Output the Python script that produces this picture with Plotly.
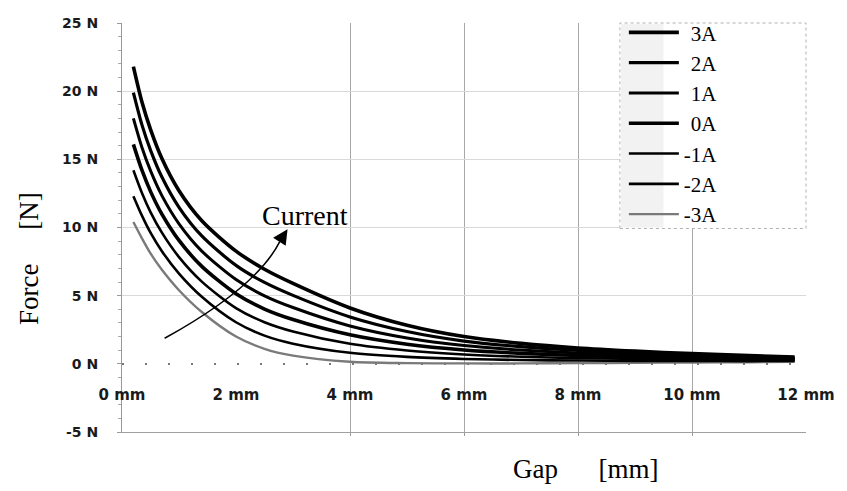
import plotly.graph_objects as go

# ---- data ----
gap_mm = [0.2, 0.35, 0.5, 0.7, 1.0, 1.4, 2.0, 2.5, 3.0, 4.0, 5.0, 6.0, 7.0, 8.0, 9.0, 10.0, 11.0, 11.8]

force_p3A = [21.8, 19.2, 17.2, 15.06, 12.7, 10.5, 8.27, 6.94, 5.9, 4.1, 2.83, 2.0, 1.5, 1.16, 0.93, 0.75, 0.6, 0.5]
force_p2A = [19.9, 17.53, 15.68, 13.7, 11.48, 9.38, 7.22, 5.97, 5.02, 3.44, 2.37, 1.67, 1.26, 0.98, 0.79, 0.64, 0.52, 0.44]
force_p1A = [18.0, 15.87, 14.17, 12.34, 10.27, 8.27, 6.18, 4.99, 4.13, 2.78, 1.9, 1.34, 1.01, 0.79, 0.65, 0.53, 0.44, 0.38]
force_0A  = [16.1, 14.2, 12.65, 10.98, 9.05, 7.15, 5.14, 4.02, 3.25, 2.13, 1.44, 1.02, 0.77, 0.61, 0.51, 0.43, 0.36, 0.33]
force_m1A = [14.2, 12.53, 11.13, 9.62, 7.83, 6.03, 4.09, 3.05, 2.37, 1.47, 0.98, 0.69, 0.52, 0.42, 0.36, 0.32, 0.28, 0.27]
force_m2A = [12.3, 10.87, 9.62, 8.26, 6.62, 4.92, 3.05, 2.07, 1.48, 0.81, 0.51, 0.36, 0.28, 0.24, 0.22, 0.21, 0.2, 0.21]
force_m3A = [10.4, 9.2, 8.1, 6.9, 5.4, 3.8, 2.0, 1.1, 0.6, 0.15, 0.05, 0.03, 0.03, 0.05, 0.08, 0.1, 0.12, 0.15]

series_names = ["3A", "2A", "1A", "0A", "-1A", "-2A", "-3A"]
series_values = [force_p3A, force_p2A, force_p1A, force_0A, force_m1A, force_m2A, force_m3A]

x_tick_vals = [0, 2, 4, 6, 8, 10, 12]
x_tick_text = ["0 mm", "2 mm", "4 mm", "6 mm", "8 mm", "10 mm", "12 mm"]
x_grid_vals = [4, 6, 8, 10]
y_tick_vals = [-5, 5, 10, 15, 20, 25]
y_tick_text = ["-5 N", "5 N", "10 N", "15 N", "20 N", "25 N"]

# ---- styles ----
line_widths = [3.6, 3.2, 3.0, 3.6, 2.6, 2.6, 2.4]
line_colors = ["#000000"] * 6 + ["#7a7a7a"]
# which overlaid axis pair each curve uses (all share identical ranges)
axis_pairs = [("x", "y")] * 4 + [("x2", "y"), ("x2", "y"), ("x", "y2")]
SERIF = "Liberation Serif, Times New Roman, serif"
ytickfont = dict(family="DejaVu Sans", size=14, color="#1a1a1a", weight="bold")
xtickfont = dict(family="DejaVu Sans", size=15, color="#1a1a1a", weight="bold")

fig = go.Figure()
for name, vals, w, c, (xa, ya) in zip(series_names, series_values, line_widths, line_colors, axis_pairs):
    label = name if name.startswith("-") else "\u2004" + name
    fig.add_trace(go.Scatter(
        x=gap_mm, y=vals, mode="lines", name=label, xaxis=xa, yaxis=ya,
        line=dict(color=c, width=w, shape="spline", smoothing=0.8),
    ))

# plot-area pixel helpers (left 122, right 813, top 16, bottom 432)
def px_x(p):
    return (p - 122) / 691.0

def px_y(p):
    return (432 - p) / 416.0

fig.update_layout(
    width=847, height=491,
    margin=dict(l=122, r=34, t=16, b=59, pad=0),
    paper_bgcolor="white", plot_bgcolor="white",
    showlegend=True,
    legend=dict(
        x=px_x(629), y=px_y(5), xanchor="left", yanchor="top",
        bgcolor="rgba(0,0,0,0)", borderwidth=0,
        font=dict(family=SERIF, size=21, color="black"),
        traceorder="normal", itemwidth=50,
    ),
    xaxis=dict(
        range=[0, 12], tickvals=x_grid_vals, showticklabels=False,
        showgrid=True, gridcolor="#a8a8a8", gridwidth=1,
        ticks="outside", ticklen=3, tickcolor="#999",
        showline=True, linecolor="#a0a0a0", linewidth=1,
        zeroline=False, anchor="y",
    ),
    xaxis2=dict(
        overlaying="x", range=[0, 12], anchor="free", position=5 / 30,
        tickvals=x_tick_vals, ticktext=x_tick_text, tickfont=xtickfont,
        showgrid=False, showline=False, zeroline=False, ticks="",
        ticklabelstandoff=20,
    ),
    yaxis=dict(
        range=[-5, 25], tickvals=y_tick_vals, ticktext=y_tick_text,
        tickfont=ytickfont, showgrid=True, gridcolor="#d9d9d9", gridwidth=1,
        zeroline=False, showline=True, linecolor="#999", linewidth=1,
        ticks="outside", ticklen=4, tickcolor="#999", ticklabelstandoff=16,
        minor=dict(dtick=1, ticks="outside", ticklen=3, tickcolor="#aaa", showgrid=False),
    ),
    yaxis2=dict(
        overlaying="y", range=[-5, 25], side="left", anchor="x",
        tickvals=[0], ticktext=["0 N"], tickfont=ytickfont,
        showgrid=True, gridcolor="#777", gridwidth=2, griddash="2px,21px",
        zeroline=False, showline=False, ticks="outside", ticklen=4,
        tickcolor="#999", ticklabelstandoff=16,
    ),
)

# legend box: white panel with dotted border and grey symbol strip
fig.add_shape(type="rect", xref="paper", yref="paper",
              x0=px_x(625), x1=1.0, y0=px_y(225), y1=1.0,
              fillcolor="white", line=dict(color="#b0b0b0", width=1, dash="dot"),
              layer="above")
fig.add_shape(type="rect", xref="paper", yref="paper",
              x0=px_x(626), x1=px_x(669), y0=px_y(224), y1=px_y(17),
              fillcolor="#f2f2f2", line=dict(width=0), layer="above")

# curved "Current" arrow
def dx(p):
    return (p - 122) / 57.5

def dy(p):
    return (363 - p) / 13.87

path = "M {:.3f},{:.3f} Q {:.3f},{:.3f} {:.3f},{:.3f}".format(
    dx(165), dy(337), dx(257.5), dy(285.5), dx(281), dy(239))
fig.add_shape(type="path", xref="x", yref="y", path=path,
              line=dict(color="black", width=1.5), layer="above")
fig.add_annotation(x=dx(289), y=dy(226), ax=dx(280), ay=dy(240),
                   xref="x", yref="y", axref="x", ayref="y",
                   text="", showarrow=True, arrowhead=2, arrowsize=2,
                   arrowwidth=1.5, arrowcolor="black", standoff=0)
fig.add_annotation(x=dx(307), y=dy(212), xref="x", yref="y", text="Current",
                   xanchor="center", yanchor="middle",
                   showarrow=False, font=dict(family=SERIF, size=28, color="black"))

# axis titles
fig.add_annotation(x=px_x(28), y=px_y(255), xref="paper", yref="paper",
                   xanchor="center", yanchor="middle",
                   text="Force\u00a0\u00a0\u00a0\u00a0\u00a0[N]", textangle=-90, showarrow=False,
                   font=dict(family=SERIF, size=27, color="black"))
fig.add_annotation(x=px_x(590), y=px_y(470), xref="paper", yref="paper",
                   xanchor="center", yanchor="middle",
                   text="Gap\u00a0\u00a0\u00a0\u00a0\u00a0\u00a0[mm]", showarrow=False,
                   font=dict(family=SERIF, size=27, color="black"))

fig.write_html("out.html")
